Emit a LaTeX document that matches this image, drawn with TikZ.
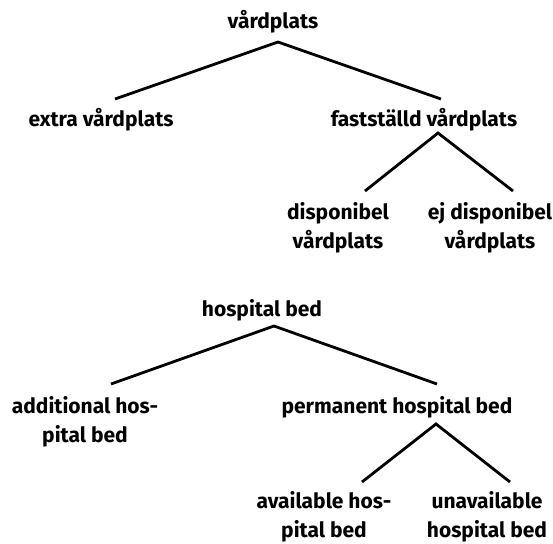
\documentclass[tikz,border=0pt]{standalone}
\usepackage{fontspec}
\setmainfont{Fira Sans}
\usepackage{tikz}

\tikzset{
  term/.style={font={\fontsize{10.5}{14.5}\selectfont\bfseries}, inner sep=0pt, align=center},
  branch/.style={line width=1.4pt}
}

\begin{document}
\begin{tikzpicture}[x=0.5pt, y=-0.5pt]
        \useasboundingbox (0,0) rectangle (553,543);
        % Swedish tree
        \node[term] (vp) at (273,22) {v\aa rdplats};
        \node[term] (extra) at (101,120) {extra v\aa rdplats};
        \node[term] (fast) at (424,120) {fastst\"alld v\aa rdplats};
        \node[term] (disp) at (338,228) {disponibel\\v\aa rdplats};
        \node[term] (ejdisp) at (490,228) {ej disponibel\\v\aa rdplats};
        \coordinate (vp-top) at (278,42);
        \coordinate (extra-end) at (115,99);
        \coordinate (fast-end) at (441,99);
        \coordinate (fast-top) at (438,133);
        \coordinate (disp-end) at (365,191);
        \coordinate (ejdisp-end) at (513,191);
        \draw[branch] (extra-end) -- (vp-top) -- (fast-end);
        \draw[branch] (disp-end) -- (fast-top) -- (ejdisp-end);
        % English tree
        \node[term] (hb) at (262,310) {hospital bed};
        \node[term] (addit) at (85,422) {additional hos-\\pital bed};
        \node[term] (perm) at (397,407) {permanent hospital bed};
        \node[term] (avail) at (324,517) {available hos-\\pital bed};
        \node[term] (unavail) at (487,517) {unavailable\\hospital bed};
        \coordinate (hb-top) at (274,326);
        \coordinate (addit-end) at (111,384);
        \coordinate (perm-end) at (437,384);
        \coordinate (perm-top) at (436,424);
        \coordinate (avail-end) at (362,482);
        \coordinate (unavail-end) at (510,482);
        \draw[branch] (addit-end) -- (hb-top) -- (perm-end);
        \draw[branch] (avail-end) -- (perm-top) -- (unavail-end);
\end{tikzpicture}
\end{document}
